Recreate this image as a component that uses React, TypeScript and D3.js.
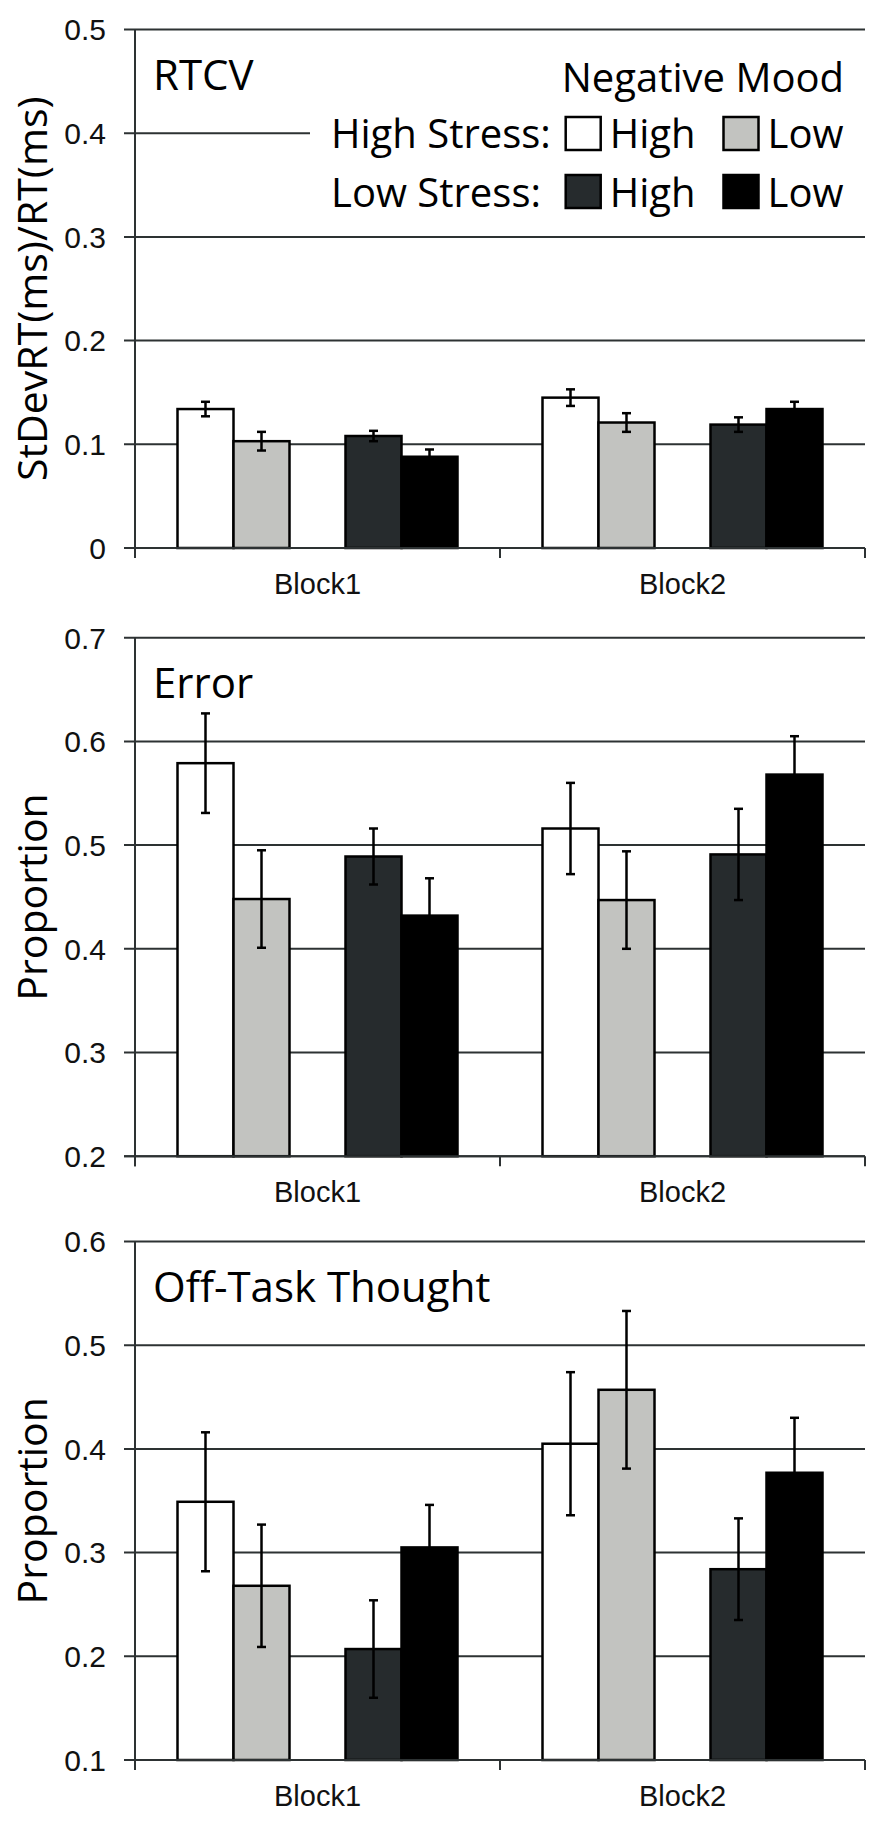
import * as d3 from 'd3';
import * as React from 'react';

// condition order: High Stress/High Mood, High Stress/Low Mood, Low Stress/High Mood, Low Stress/Low Mood
const blocks = ['Block1', 'Block2'];
const conditions = ['hsHigh', 'hsLow', 'lsHigh', 'lsLow'];
const slots = ['hsHigh', 'hsLow', 'gap', 'lsHigh', 'lsLow'];
const fills = ['#ffffff', '#c2c3c0', '#262b2d', '#000000'];

const rtcvMean = [0.134, 0.103, 0.108, 0.088, 0.145, 0.121, 0.119, 0.134];
const rtcvErr = [0.007, 0.009, 0.005, 0.007, 0.008, 0.009, 0.007, 0.007];
const errorMean = [0.579, 0.448, 0.489, 0.432, 0.516, 0.447, 0.491, 0.568];
const errorErr = [0.048, 0.047, 0.027, 0.036, 0.044, 0.047, 0.044, 0.037];
const offTaskMean = [0.349, 0.268, 0.207, 0.305, 0.405, 0.457, 0.284, 0.377];
const offTaskErr = [0.067, 0.059, 0.047, 0.041, 0.069, 0.076, 0.049, 0.053];

const panels = [
  { title: 'RTCV', yLabel: 'StDevRT(ms)/RT(ms)', domain: [0, 0.5], mean: rtcvMean, err: rtcvErr, top: 29.5, legend: true },
  { title: 'Error', yLabel: 'Proportion', domain: [0.2, 0.7], mean: errorMean, err: errorErr, top: 637.7, legend: false },
  { title: 'Off-Task Thought', yLabel: 'Proportion', domain: [0.1, 0.6], mean: offTaskMean, err: offTaskErr, top: 1241.5, legend: false },
];

const W = 892;
const H = 1826;
const left = 135;
const right = 865;
const panelH = 518.5;
const humanist = '"Open Sans", "Noto Sans", sans-serif';
const arial = '"Liberation Sans", Arial, sans-serif';
const gridColor = '#2d3233';
const fmt = d3.format('.1~f');

const x0 = d3.scaleBand<string>().domain(blocks).range([left, right])
  .paddingInner(85 / 365).paddingOuter(42.5 / 365);
const x1 = d3.scaleBand<string>().domain(slots).range([0, x0.bandwidth()]);

function Legend() {
  const sw = [565.7, 723.5];
  const rows = [
    { label: 'High Stress:', y: 148, top: 117 },
    { label: 'Low Stress:', y: 207, top: 175 },
  ];
  return (
    <g>
      <rect x={310} y={48} width={560} height={180} fill="#fff" />
      <text x={844} y={92} textAnchor="end" fontFamily={humanist} fontSize={40}>Negative Mood</text>
      {rows.map((r, ri) => (
        <g key={r.label}>
          <text x={331} y={r.y} fontFamily={humanist} fontSize={40}>{r.label}</text>
          {['High', 'Low'].map((m, mi) => (
            <g key={m}>
              <rect x={sw[mi]} y={r.top} width={35} height={33} fill={fills[ri * 2 + mi]} stroke="#000" strokeWidth={2.5} />
              <text x={sw[mi] + 44} y={r.y} fontFamily={humanist} fontSize={40}>{m}</text>
            </g>
          ))}
        </g>
      ))}
    </g>
  );
}

function Panel({ p }: { p: typeof panels[number] }) {
  const y = d3.scaleLinear().domain(p.domain).range([p.top + panelH, p.top]);
  const ticks = d3.range(0, 6).map((i) => +(p.domain[0] + i * 0.1).toFixed(1));
  const base = y(p.domain[0]);
  const bars = blocks.flatMap((b, bi) =>
    conditions.map((c, ci) => ({ b, c, ci, v: p.mean[bi * 4 + ci], e: p.err[bi * 4 + ci] })));
  return (
    <g>
      {ticks.map((t) => (
        <line key={t} x1={left - 11} x2={right} y1={y(t)} y2={y(t)} stroke={gridColor} strokeWidth={2} />
      ))}
      {p.legend && <Legend />}
      <text x={153} y={p.top + 60} fontFamily={humanist} fontSize={42}>{p.title}</text>
      {bars.map((d) => {
        const bx = (x0(d.b) as number) + (x1(d.c) as number);
        return (
          <rect key={d.b + d.c} x={bx} y={y(d.v)} width={x1.bandwidth()} height={base - y(d.v)}
            fill={fills[d.ci]} stroke="#000" strokeWidth={2.5} />
        );
      })}
      {bars.map((d) => {
        const cx = (x0(d.b) as number) + (x1(d.c) as number) + x1.bandwidth() / 2;
        return (
          <g key={'e' + d.b + d.c} stroke="#000" strokeWidth={2.5}>
            <line x1={cx} x2={cx} y1={y(d.v + d.e)} y2={y(d.v - d.e)} />
            <line x1={cx - 4.5} x2={cx + 4.5} y1={y(d.v + d.e)} y2={y(d.v + d.e)} />
            <line x1={cx - 4.5} x2={cx + 4.5} y1={y(d.v - d.e)} y2={y(d.v - d.e)} />
          </g>
        );
      })}
      <line x1={left} x2={left} y1={p.top} y2={base + 10} stroke={gridColor} strokeWidth={2} />
      <line x1={left - 11} x2={right} y1={base} y2={base} stroke={gridColor} strokeWidth={2} />
      {[left, (x0('Block2') as number) - x0.step() * (85 / 365) / 2, right].map((tx) => (
        <line key={tx} x1={tx} x2={tx} y1={base} y2={base + 10} stroke={gridColor} strokeWidth={2} />
      ))}
      {ticks.map((t) => (
        <text key={'l' + t} x={106} y={y(t)} dy="0.36em" textAnchor="end" fontFamily={arial} fontSize={30} fill="#111">
          {fmt(t)}
        </text>
      ))}
      {blocks.map((b) => (
        <text key={b} x={(x0(b) as number) + x0.bandwidth() / 2} y={base + 46} textAnchor="middle"
          fontFamily={arial} fontSize={29} fill="#111">{b}</text>
      ))}
      <text transform={`translate(47,${p.top + panelH / 2}) rotate(-90)`} textAnchor="middle"
        fontFamily={humanist} fontSize={41}>{p.yLabel}</text>
    </g>
  );
}

export default function App() {
  return (
    <svg width={W} height={H} viewBox={`0 0 ${W} ${H}`}
      style={{ position: 'absolute', left: 0, top: 0, background: '#fff' }}>
      <rect width={W} height={H} fill="#fff" />
      {panels.map((p) => <Panel key={p.title} p={p} />)}
    </svg>
  );
}
